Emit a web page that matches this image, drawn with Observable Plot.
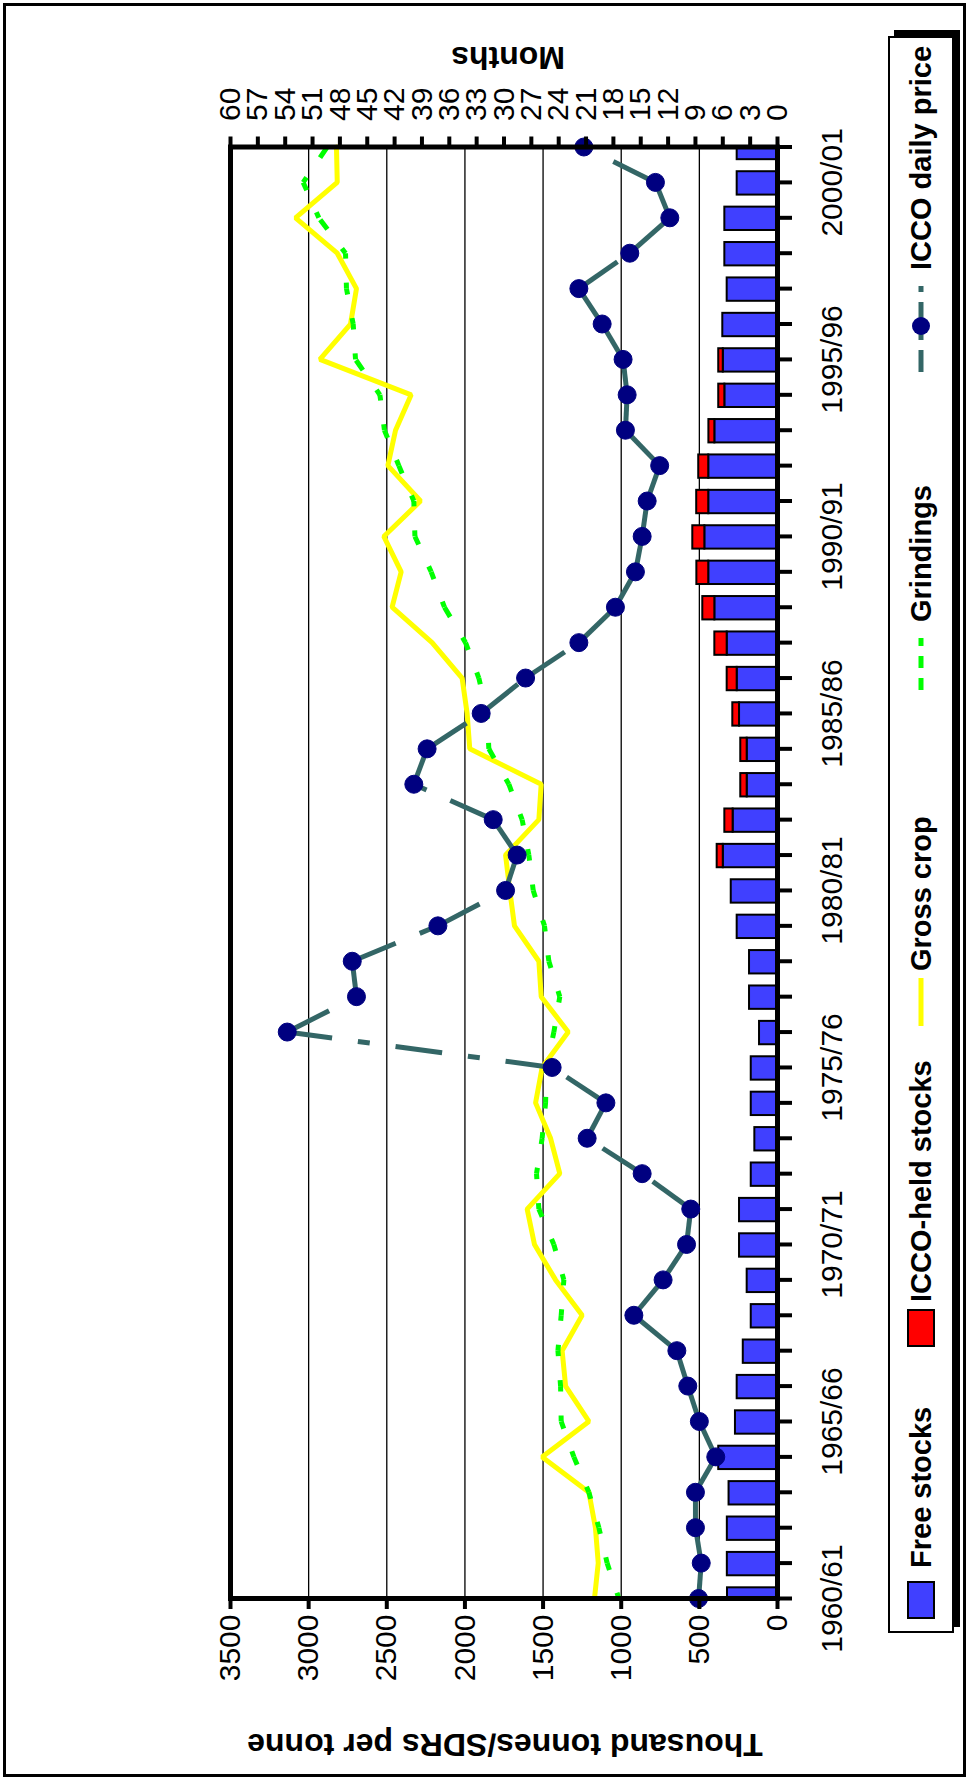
<!DOCTYPE html>
<html>
<head>
<meta charset="utf-8">
<script src="https://cdn.jsdelivr.net/npm/d3@7"></script>
<script src="https://cdn.jsdelivr.net/npm/@observablehq/plot@0.6"></script>
<style>
  html, body { margin: 0; padding: 0; background: #fff; }
  body { width: 969px; height: 1780px; overflow: hidden; position: relative; font-family: "Liberation Sans", Arial, sans-serif; }
  #rot { position: absolute; left: 0; top: 0; width: 1780px; height: 969px; transform-origin: 0 0; transform: translate(0px, 1780px) rotate(-90deg); background: #fff; }
  #outer { position: absolute; left: 3px; top: 3px; width: 1768px; height: 957px; border: 3px solid #000; }
  #chart { position: absolute; left: 0; top: 0; }
  .vtitle { position: absolute; transform: translate(-50%, -50%) rotate(-90deg); white-space: nowrap; font-weight: bold; font-size: 32px; color: #000; }
  #legend { position: absolute; left: 147px; top: 888px; width: 1593px; height: 62px; border: 2px solid #000; background: #fff; box-shadow: 6px 6px 0 #000; }
  .lg { position: absolute; top: 50%; transform: translateY(-50%); font-weight: bold; font-size: 29px; white-space: nowrap; color: #000; }
  .sw { position: absolute; top: 50%; transform: translateY(-50%); }
</style>
</head>
<body>
<div id="rot">
  <div id="outer"></div>
  <div id="chart"></div>
  <div class="vtitle" style="left:36px; top:505px;">Thousand tonnes/SDRs per tonne</div>
  <div class="vtitle" style="left:1723px; top:508px;">Months</div>
  <div id="legend"></div>
</div>
<script>
// Crop years (categories)
const years = ["1960/61","1961/62","1962/63","1963/64","1964/65","1965/66","1966/67","1967/68","1968/69","1969/70",
  "1970/71","1971/72","1972/73","1973/74","1974/75","1975/76","1976/77","1977/78","1978/79","1979/80",
  "1980/81","1981/82","1982/83","1983/84","1984/85","1985/86","1986/87","1987/88","1988/89","1989/90",
  "1990/91","1991/92","1992/93","1993/94","1994/95","1995/96","1996/97","1997/98","1998/99","1999/2000",
  "2000/01","2001/02"];
// Thousand tonnes
const freeStocks = [320,321,321,310,376,269,258,219,168,194,
  243,243,168,145,168,168,115,179,179,258,
  296,347,284,194,194,243,258,322,401,440,
  465,440,440,401,337,347,350,322,337,337,
  258,258];
const iccoStocks = [0,0,0,0,0,0,0,0,0,0,
  0,0,0,0,0,0,0,0,0,0,
  0,39,53,41,41,43,64,79,77,76,
  77,77,64,38,39,29,0,0,0,0,
  0,0];
const grossCrop = [1171,1147,1165,1207,1506,1207,1356,1378,1250,1420,
  1555,1602,1393,1452,1548,1506,1339,1512,1527,1683,
  1713,1740,1527,1512,1969,1986,2018,2210,2466,2408,
  2519,2284,2493,2444,2344,2928,2732,2694,2817,3084,
  2817,2822];
const grindings = [1015,1090,1143,1207,1303,1384,1388,1405,1384,1367,
  1431,1527,1542,1506,1484,1478,1431,1393,1463,1491,
  1563,1591,1634,1719,1847,1858,1911,1996,2131,2216,
  2320,2327,2423,2515,2544,2700,2715,2758,2764,2935,
  3035,2881];
// SDRs per tonne
const iccoPrice = [505,488,525,525,395,500,574,644,919,732,
  582,555,866,1218,1098,1442,3137,2694,2721,2173,
  1740,1666,1819,2327,2242,1896,1612,1271,1037,909,
  866,834,754,973,962,988,1122,1271,945,689,
  781,1239];
// Axis ticks
const valueTicks = [0,500,1000,1500,2000,2500,3000,3500];
const monthTicks = [0,3,6,9,12,15,18,21,24,27,30,33,36,39,42,45,48,51,54,57,60];
const labelledYears = ["1960/61","1965/66","1970/71","1975/76","1980/81","1985/86","1990/91","1995/96","2000/01"];

const COL = {free:"#4040ff", icco:"#ff0000", crop:"#ffff00", grind:"#00ff00", priceLine:"#336666", priceDot:"#000080"};

const data = years.map((y, i) => ({i, year: y, free: freeStocks[i], icco: iccoStocks[i], crop: grossCrop[i], grind: grindings[i], price: iccoPrice[i]}));
const segs = data.slice(0, -1).map((d, k) => ({x1: d.i, x2: data[k + 1].i, g1: d.grind, g2: data[k + 1].grind, p1: d.price, p2: data[k + 1].price}));
const half = 0.33;
const monthToValue = m => m * 3500 / 60;

const chart = Plot.plot({
  width: 1780, height: 969,
  marginLeft: 181, marginRight: 147.5, marginTop: 230, marginBottom: 192,
  x: {type: "linear", domain: [0, years.length - 1]},
  y: {domain: [0, 3500]},
  style: {fontFamily: "'Liberation Sans', Arial, sans-serif", fontSize: "30px", color: "#000", background: "transparent", overflow: "visible"},
  marks: [
    Plot.gridY(valueTicks, {stroke: "#000", strokeOpacity: 1, strokeWidth: 1.3}),
    Plot.rect(data, {x1: d => d.i - half, x2: d => d.i + half, y1: 0, y2: "free", fill: COL.free, stroke: "#000", strokeWidth: 2, clip: true}),
    Plot.rect(data.filter(d => d.icco > 0), {x1: d => d.i - half, x2: d => d.i + half, y1: "free", y2: d => d.free + d.icco, fill: COL.icco, stroke: "#000", strokeWidth: 2, clip: true}),
    Plot.line(data, {x: "i", y: "crop", stroke: COL.crop, strokeWidth: 5, strokeLinejoin: "miter"}),
    Plot.link(segs, {x1: "x1", x2: "x2", y1: "g1", y2: "g2", stroke: COL.grind, strokeWidth: 5, strokeDasharray: "12,24", strokeDashoffset: 6, strokeLinecap: "butt"}),
    Plot.link(segs, {x1: "x1", x2: "x2", y1: "p1", y2: "p2", stroke: COL.priceLine, strokeWidth: 5, strokeDasharray: "47,26,12,26", strokeLinecap: "butt"}),
    Plot.dot(data, {x: "i", y: "price", r: 9, fill: COL.priceDot, stroke: COL.priceDot, strokeWidth: 1}),
    Plot.frame({stroke: "#000", strokeWidth: 5}),
    Plot.axisY(valueTicks, {anchor: "left", tickSize: 10, tickPadding: 6, strokeWidth: 4, tickFormat: d => String(d), label: null}),
    Plot.axisY(monthTicks.map(monthToValue), {anchor: "right", tickSize: 10, tickPadding: 16, strokeWidth: 4, tickFormat: v => String(Math.round(v * 60 / 3500)), label: null}),
    Plot.axisX(data.map(d => d.i), {anchor: "bottom", tickSize: 15, tickPadding: 28, strokeWidth: 4, tickFormat: i => labelledYears.includes(years[i]) ? years[i] : "", label: null})
  ]
});
document.getElementById("chart").appendChild(chart);

// Legend
const legend = document.getElementById("legend");
function add(html) { legend.insertAdjacentHTML("beforeend", html); }
const legendItems = [
  {name: "Free stocks", kind: "bar", color: COL.free, sw: 12, tx: 63},
  {name: "ICCO-held stocks", kind: "bar", color: COL.icco, sw: 284, tx: 329},
  {name: "Gross crop", kind: "line", color: COL.crop, sw: 605, tx: 660},
  {name: "Grindings", kind: "dash", color: COL.grind, sw: 941, tx: 1009},
  {name: "ICCO daily price", kind: "marker", color: COL.priceLine, sw: 1259, tx: 1361}
];
for (const it of legendItems) {
  if (it.kind === "bar") {
    add(`<div class="sw" style="left:${it.sw}px;width:34px;height:24px;background:${it.color};border:2px solid #000;"></div>`);
  } else if (it.kind === "line") {
    add(`<svg class="sw" style="left:${it.sw}px" width="48" height="10"><line x1="0" y1="5" x2="48" y2="5" stroke="${it.color}" stroke-width="5"/></svg>`);
  } else if (it.kind === "dash") {
    add(`<svg class="sw" style="left:${it.sw}px" width="52" height="10"><line x1="0" y1="5" x2="52" y2="5" stroke="${it.color}" stroke-width="5" stroke-dasharray="12,10"/></svg>`);
  } else {
    add(`<svg class="sw" style="left:${it.sw}px" width="92" height="20"><line x1="0" y1="10" x2="92" y2="10" stroke="${it.color}" stroke-width="5" stroke-dasharray="22,10,6,10"/><circle cx="46" cy="10" r="9" fill="${COL.priceDot}"/></svg>`);
  }
  add(`<div class="lg" style="left:${it.tx}px">${it.name}</div>`);
}
</script>
</body>
</html>
